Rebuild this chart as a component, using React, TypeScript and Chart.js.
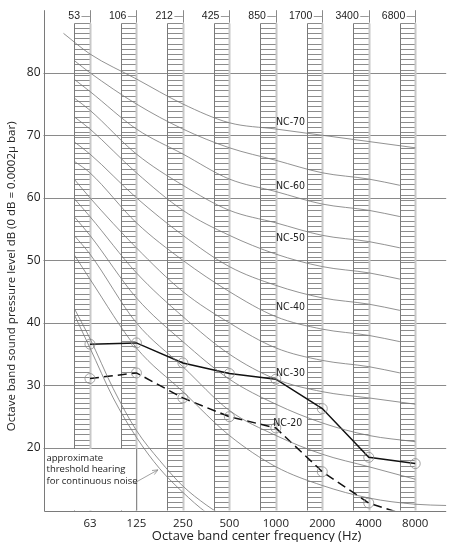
import React, { useEffect, useRef } from 'react';
import { Chart, registerables } from 'chart.js';

Chart.register(...registerables);

// Octave-band centre frequencies (plotted at octave index 0..7)
const frequencies = ['63', '125', '250', '500', '1000', '2000', '4000', '8000'];
const octaveIndex = [0, 1, 2, 3, 4, 5, 6, 7];
// Old-style band labels printed along the top
const bandLabels = ['53', '106', '212', '425', '850', '1700', '3400', '6800'];
const yTickValues = [20, 30, 40, 50, 60, 70, 80];

// NC curves (dB at 63 ... 8000 Hz)
const nc70 = [83, 79, 75, 72, 71, 70, 69, 68];
const nc65 = [80, 75, 71, 68, 66, 64, 63, 62];
const nc60 = [77, 71, 67, 63, 61, 59, 58, 57];
const nc55 = [74, 67, 62, 58, 56, 54, 53, 52];
const nc50 = [71, 64, 58, 54, 51, 49, 48, 47];
const nc45 = [67, 60, 54, 49, 46, 44, 43, 42];
const nc40 = [64, 56, 50, 45, 41, 39, 38, 37];
const nc35 = [60, 52, 45, 40, 36, 34, 33, 32];
const nc30 = [57, 48, 41, 35, 31, 29, 28, 27];
const nc25 = [54, 44, 37, 31, 27, 24, 22, 21];
const nc20 = [51, 40, 33, 26, 22, 19, 17, 15];
const nc15 = [47, 36, 29, 22, 17, 14, 12, 11];
const ncCurves = [nc70, nc65, nc60, nc55, nc50, nc45, nc40, nc35, nc30, nc25, nc20, nc15];
// where each curve begins on the left (octave index, dB)
const ncStartOctave = [-0.57, -0.33, -0.33, -0.33, -0.33, -0.33, -0.33, -0.33, -0.33, -0.33, -0.33, -0.33];
const ncStartLevel = [86.3, 81.9, 78.9, 75.9, 72.9, 68.9, 65.8, 62.9, 59.8, 56.9, 53.9, 50.8];
// octave index at which the last (8000 Hz) level is drawn
const ncEndOctave = [7, 6.67, 6.67, 6.67, 6.67, 6.67, 6.67, 6.67, 7, 7, 7, 7];
// NC-15 continues to the right edge
const nc15TailOctave = 7.67;
const nc15TailLevel = 10.8;

// Curve labels
const ncLabelText = ['NC-70', 'NC-60', 'NC-50', 'NC-40', 'NC-30', 'NC-20'];
const ncLabelLevel = [72.1, 61.9, 53.6, 42.5, 32.0, 24.0];
const ncLabelOctave = [4.63, 4.63, 4.63, 4.63, 4.63, 4.57];

// Measured spectra
const measuredSolid = [36.6, 36.8, 33.6, 31.9, 31.0, 26.3, 18.5, 17.5];
const measuredDashed = [31.1, 32.0, 28.0, 25.0, 23.2, 16.2, 11.2, 8.8];
const dashedMarked = [true, true, true, true, true, true, true, false];

// Threshold of hearing curves
const thresholdOctave = [-0.33, 0, 0.5, 1, 1.5, 2, 2.5, 3];
const thresholdUpper = [42.2, 37.5, 29.5, 22.8, 18.0, 13.9, 10.9, 8.5];
const thresholdLower = [41.2, 36.0, 28.0, 21.7, 16.7, 12.9, 9.7, 7.5];

const noteLines = ['approximate', 'threshold hearing', 'for continuous noise'];
const noteArrowFrom = { x: 0.934, y: 14.3 };
const noteArrowTo = { x: 1.464, y: 16.5 };

const yTitle = 'Octave band sound pressure level dB (0 dB = 0.0002\u03bc bar)';
const xTitle = 'Octave band center frequency (Hz)';

const BAND_TOP = 88;
const HATCH_STEP = 10 / 12;
const BAND_WIDTH = 1 / 3;

const decorPlugin = {
  id: 'ncDecor',
  beforeDatasetsDraw(chart: any) {
    const { ctx, chartArea: a } = chart;
    const xs = chart.scales.x;
    const ys = chart.scales.y;
    const r = (v: number) => Math.round(v) + 0.5;
    ctx.save();
    ctx.lineWidth = 1;

    // horizontal grid
    ctx.strokeStyle = '#8a8a8a';
    yTickValues.forEach((v) => {
      const y = r(ys.getPixelForValue(v));
      ctx.beginPath();
      ctx.moveTo(a.left, y);
      ctx.lineTo(a.right, y);
      ctx.stroke();
    });

    // hatched bands
    octaveIndex.forEach((i) => {
      const x0 = r(xs.getPixelForValue(i - BAND_WIDTH));
      const x1 = r(xs.getPixelForValue(i));
      const yTop = r(ys.getPixelForValue(BAND_TOP));
      ctx.strokeStyle = '#8c8c8c';
      for (let v = BAND_TOP; v > ys.min; v -= HATCH_STEP) {
        const y = r(ys.getPixelForValue(v));
        ctx.beginPath();
        ctx.moveTo(x0, y);
        ctx.lineTo(x1, y);
        ctx.stroke();
      }
      ctx.strokeStyle = '#7a7a7a';
      ctx.beginPath();
      ctx.moveTo(x0, yTop);
      ctx.lineTo(x0, a.bottom);
      ctx.stroke();
      // right edge light band
      ctx.strokeStyle = '#c8c8c8';
      ctx.lineWidth = 2;
      ctx.beginPath();
      ctx.moveTo(x1, yTop);
      ctx.lineTo(x1, a.bottom);
      ctx.stroke();
      ctx.lineWidth = 1;
    });

    // octave lines
    ctx.strokeStyle = '#8a8a8a';
    octaveIndex.forEach((i) => {
      const x = r(xs.getPixelForValue(i));
      ctx.beginPath();
      ctx.moveTo(x, a.top);
      ctx.lineTo(x, ys.getPixelForValue(BAND_TOP));
      ctx.stroke();
    });

    // note box cleared
    const boxRight = r(xs.getPixelForValue(1));
    const boxTop = r(ys.getPixelForValue(20));
    ctx.fillStyle = '#ffffff';
    ctx.fillRect(a.left + 1, boxTop + 0.5, boxRight - a.left - 1.5, a.bottom - boxTop - 1);
    ctx.strokeStyle = '#8a8a8a';
    ctx.beginPath();
    ctx.moveTo(boxRight, boxTop);
    ctx.lineTo(boxRight, a.bottom);
    ctx.stroke();

    // frame: left and bottom
    ctx.strokeStyle = '#7a7a7a';
    ctx.beginPath();
    ctx.moveTo(r(a.left), a.top);
    ctx.lineTo(r(a.left), r(a.bottom));
    ctx.lineTo(a.right, r(a.bottom));
    ctx.stroke();

    // note text
    ctx.fillStyle = '#222';
    ctx.font = '9.5px "Open Sans", sans-serif';
    ctx.textAlign = 'left';
    ctx.textBaseline = 'middle';
    noteLines.forEach((t, k) => {
      ctx.fillText(t, a.left + 3, boxTop + 10 + k * 11.2);
    });
    // leader arrow
    const fx = xs.getPixelForValue(noteArrowFrom.x);
    const fy = ys.getPixelForValue(noteArrowFrom.y);
    const tx = xs.getPixelForValue(noteArrowTo.x);
    const ty = ys.getPixelForValue(noteArrowTo.y);
    ctx.strokeStyle = '#8a8a8a';
    ctx.lineWidth = 0.8;
    ctx.beginPath();
    ctx.moveTo(fx, fy);
    ctx.lineTo(tx, ty);
    const ang = Math.atan2(ty - fy, tx - fx);
    const L = 6;
    ctx.moveTo(tx - L * Math.cos(ang - 0.4), ty - L * Math.sin(ang - 0.4));
    ctx.lineTo(tx, ty);
    ctx.lineTo(tx - L * Math.cos(ang + 0.4), ty - L * Math.sin(ang + 0.4));
    ctx.stroke();

    // top band labels
    ctx.font = '10.5px "Liberation Sans", Arial, sans-serif';
    ctx.textAlign = 'right';
    ctx.textBaseline = 'middle';
    ctx.fillStyle = '#222';
    const labelY = a.top + 5.5;
    bandLabels.forEach((t, k) => {
      const x = xs.getPixelForValue(octaveIndex[k]);
      ctx.fillText(t, x - 10, labelY);
      ctx.strokeStyle = '#9a9a9a';
      ctx.lineWidth = 1;
      ctx.beginPath();
      ctx.moveTo(x - 8.5, r(labelY));
      ctx.lineTo(x, r(labelY));
      ctx.stroke();
    });
    ctx.restore();
  },
  afterDraw(chart: any) {
    const { ctx, chartArea: a } = chart;
    const xs = chart.scales.x;
    const ys = chart.scales.y;
    ctx.save();
    ctx.fillStyle = '#222';
    // NC labels
    ctx.font = '10.5px "Liberation Sans Narrow", "DejaVu Sans Condensed", sans-serif';
    ctx.textAlign = 'right';
    ctx.textBaseline = 'middle';
    ncLabelText.forEach((t, k) => {
      ctx.fillText(t, xs.getPixelForValue(ncLabelOctave[k]), ys.getPixelForValue(ncLabelLevel[k]));
    });
    // axis titles
    ctx.font = '13px "Open Sans", sans-serif';
    ctx.textAlign = 'center';
    ctx.fillText(xTitle, (xs.getPixelForValue(0) + xs.getPixelForValue(7)) / 2 + 4, a.bottom + 25.5);
    ctx.font = '11.5px "Open Sans", sans-serif';
    ctx.translate(11.5, (a.top + a.bottom) / 2 + 16);
    ctx.rotate(-Math.PI / 2);
    ctx.fillText(yTitle, 0, 0);
    ctx.restore();
  },
};

function buildDatasets() {
  const sets: any[] = [];
  ncCurves.forEach((vals, k) => {
    const pts = [{ x: ncStartOctave[k], y: ncStartLevel[k] }];
    vals.forEach((v, j) => pts.push({ x: j === 7 ? ncEndOctave[k] : octaveIndex[j], y: v }));
    if (vals === nc15) pts.push({ x: nc15TailOctave, y: nc15TailLevel });
    sets.push({
      data: pts,
      borderColor: '#767676',
      borderWidth: 0.8,
      pointRadius: 0,
      cubicInterpolationMode: 'monotone',
      fill: false,
    });
  });
  [thresholdUpper, thresholdLower].forEach((vals) => {
    sets.push({
      data: vals.map((v, j) => ({ x: thresholdOctave[j], y: v })),
      borderColor: '#767676',
      borderWidth: 0.8,
      pointRadius: 0,
      cubicInterpolationMode: 'monotone',
      fill: false,
    });
  });
  sets.push({
    data: measuredSolid.map((v, j) => ({ x: octaveIndex[j], y: v })),
    borderColor: '#111',
    borderWidth: 1.5,
    tension: 0,
    pointRadius: 5,
    pointBorderColor: '#8c8c8c',
    pointBorderWidth: 0.8,
    pointBackgroundColor: 'rgba(0,0,0,0)',
    fill: false,
  });
  sets.push({
    data: measuredDashed.map((v, j) => ({ x: octaveIndex[j], y: v })),
    borderColor: '#111',
    borderWidth: 1.5,
    borderDash: [9, 5],
    tension: 0,
    pointRadius: dashedMarked.map((m) => (m ? 5 : 0)),
    pointBorderColor: '#8c8c8c',
    pointBorderWidth: 0.8,
    pointBackgroundColor: 'rgba(0,0,0,0)',
    fill: false,
  });
  return sets;
}

export default function App() {
  const ref = useRef<HTMLCanvasElement>(null);
  useEffect(() => {
    const canvas = ref.current;
    if (!canvas) return;
    const chart = new Chart(canvas, {
      type: 'line',
      data: { datasets: buildDatasets() },
      plugins: [decorPlugin],
      options: {
        animation: false,
        responsive: false,
        layout: { padding: { top: 8, left: 0, right: 0, bottom: 0 } },
        plugins: { legend: { display: false }, tooltip: { enabled: false } },
        scales: {
          x: {
            type: 'linear',
            min: -1,
            max: 7 + 2 / 3,
            grid: { display: false, drawTicks: false },
            border: { display: false },
            afterBuildTicks: (axis: any) => {
              axis.ticks = octaveIndex.map((v) => ({ value: v }));
            },
            afterFit: (axis: any) => {
              axis.height = 31.5;
            },
            ticks: {
              autoSkip: false,
              maxRotation: 0,
              padding: 6,
              color: '#222',
              font: { family: '"Open Sans", sans-serif', size: 11.5 },
              callback: (v: any) => frequencies[v] ?? '',
            },
          },
          y: {
            type: 'linear',
            min: 10,
            max: 90,
            grid: { display: false, drawTicks: false },
            border: { display: false },
            afterBuildTicks: (axis: any) => {
              axis.ticks = yTickValues.map((v) => ({ value: v }));
            },
            afterFit: (axis: any) => {
              axis.width = 43.5;
            },
            ticks: {
              padding: 3,
              color: '#222',
              font: { family: '"Open Sans", sans-serif', size: 12 },
            },
          },
        },
      } as any,
    });
    return () => chart.destroy();
  }, []);
  return (
    <div style={{ position: 'absolute', left: 0, top: 0, width: 452, height: 542, background: '#fff' }}>
      <canvas ref={ref} width={452} height={542} style={{ display: 'block', width: 452, height: 542 }} />
    </div>
  );
}
